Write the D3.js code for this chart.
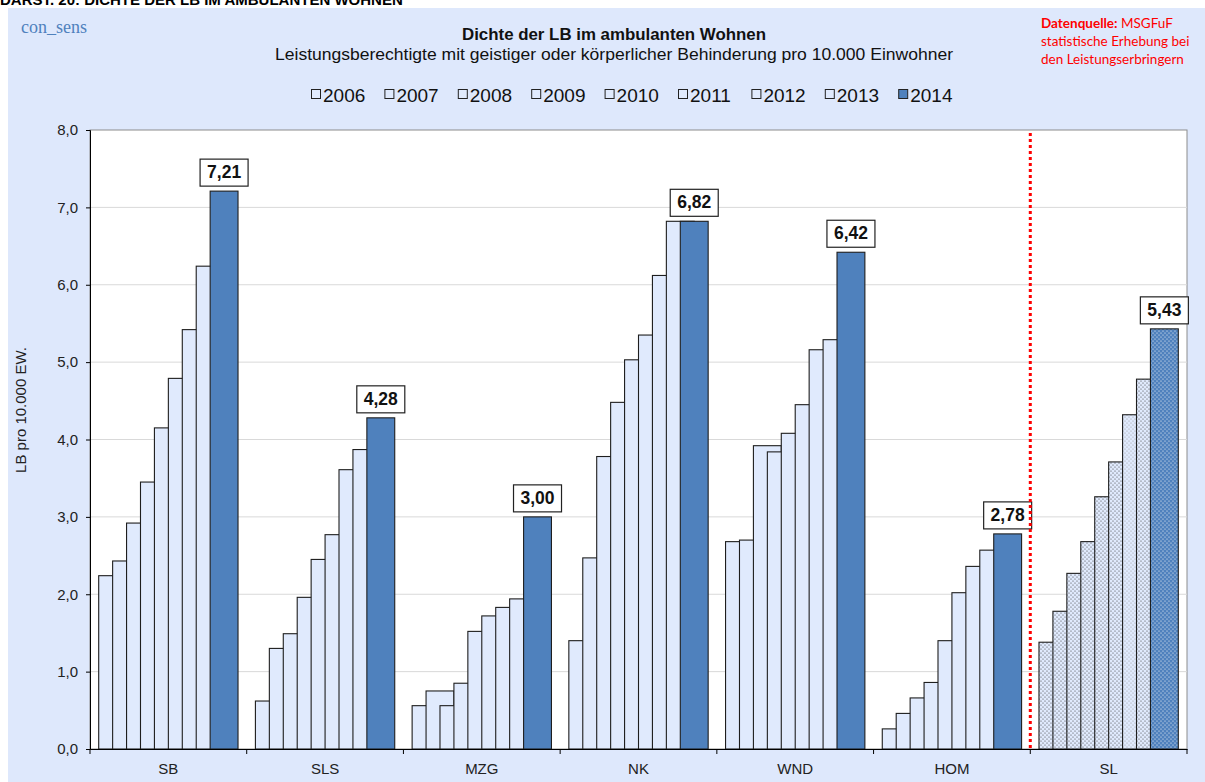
<!DOCTYPE html>
<html>
<head>
<meta charset="utf-8">
<script src="https://cdn.jsdelivr.net/npm/d3@7"></script>
<style>
  body { margin: 0; background: #fff; }
  svg { display: block; font-family: "Liberation Sans", Arial, sans-serif; }
</style>
</head>
<body>
<div id="chart"></div>
<script>
// Dichte der LB im ambulanten Wohnen
const categories = ["SB", "SLS", "MZG", "NK", "WND", "HOM", "SL"];
const years = ["2006", "2007", "2008", "2009", "2010", "2011", "2012", "2013", "2014"];
const v2006 = [2.24, 0.62, 0.56, 1.40, 2.68, 0.26, 1.38];
const v2007 = [2.43, 1.30, 0.75, 2.47, 2.70, 0.46, 1.78];
const v2008 = [2.92, 1.49, 0.56, 3.78, 3.92, 0.66, 2.27];
const v2009 = [3.45, 1.96, 0.85, 4.48, 3.84, 0.86, 2.68];
const v2010 = [4.15, 2.45, 1.52, 5.03, 4.08, 1.40, 3.26];
const v2011 = [4.79, 2.77, 1.72, 5.35, 4.45, 2.02, 3.71];
const v2012 = [5.42, 3.61, 1.83, 6.12, 5.16, 2.36, 4.32];
const v2013 = [6.24, 3.87, 1.94, 6.82, 5.29, 2.57, 4.78];
const v2014 = [7.21, 4.28, 3.00, 6.82, 6.42, 2.78, 5.43];
const series = [v2006, v2007, v2008, v2009, v2010, v2011, v2012, v2013, v2014];
const yTicks = [0, 1, 2, 3, 4, 5, 6, 7, 8];
const sourceLines = ["statistische Erhebung bei", "den Leistungserbringern"];

const W = 1205, H = 782;
const m = {left: 90, right: 1187, top: 130, bottom: 749};
const panelBg = "#dee8fc", barLight = "#e0eafd", barBlue = "#4f81bd";

const de = d3.formatLocale({decimal: ",", thousands: ".", grouping: [3], currency: ["", " €"]});
const f1 = de.format(".1f"), f2 = de.format(".2f");

const svg = d3.select("#chart").append("svg").attr("width", W).attr("height", H);

// patterns for the SL (Saarland) group
const defs = svg.append("defs");
function dotPattern(id, bg, dot, r) {
  const p = defs.append("pattern").attr("id", id).attr("patternUnits", "userSpaceOnUse")
    .attr("width", 4).attr("height", 4);
  p.append("rect").attr("width", 4).attr("height", 4).attr("fill", bg);
  p.append("circle").attr("cx", 1).attr("cy", 1).attr("r", r).attr("fill", dot);
  p.append("circle").attr("cx", 3).attr("cy", 3).attr("r", r).attr("fill", dot);
}
dotPattern("dotLight", barLight, "#3a3a3a", 0.6);
dotPattern("dotGrey", barLight, "#9a9a9a", 0.6);
dotPattern("dotBlue", barBlue, "#ffffff", 0.6);

// heading (cut off at top, as in the source document) and panel
svg.append("text").attr("x", 0).attr("y", 5).attr("font-size", 15).attr("font-weight", "bold")
  .attr("fill", "#000").text("DARST. 20: DICHTE DER LB IM AMBULANTEN WOHNEN");
svg.append("rect").attr("x", 8).attr("y", 8).attr("width", W - 8).attr("height", H - 8).attr("fill", panelBg);

svg.append("text").attr("x", 21).attr("y", 33).attr("font-family", "Liberation Serif, serif")
  .attr("font-size", 18).attr("fill", "#4f81bd").text("con_sens");

svg.append("text").attr("x", 614).attr("y", 40).attr("text-anchor", "middle").attr("font-size", 16)
  .attr("font-weight", "bold").attr("fill", "#111").attr("textLength", 304).attr("lengthAdjust", "spacingAndGlyphs")
  .text("Dichte der LB im ambulanten Wohnen");
svg.append("text").attr("x", 614).attr("y", 60).attr("text-anchor", "middle").attr("font-size", 17)
  .attr("fill", "#111").attr("textLength", 678).attr("lengthAdjust", "spacingAndGlyphs")
  .text("Leistungsberechtigte mit geistiger oder körperlicher Behinderung pro 10.000 Einwohner");

// data source
const src = svg.append("g").attr("font-family", "Lato, 'Open Sans', sans-serif").attr("font-size", 13.5).attr("fill", "#ff0000");
const t0 = src.append("text").attr("x", 1041).attr("y", 28);
t0.append("tspan").attr("font-weight", "bold").text("Datenquelle:");
t0.append("tspan").text(" MSGFuF");
src.selectAll("text.l").data(sourceLines).enter().append("text").attr("class", "l")
  .attr("x", 1041).attr("y", (d, i) => 46 + i * 18).text(d => d);

// legend
const lg = svg.append("g").attr("transform", "translate(311,95)");
const li = lg.selectAll("g").data(years).enter().append("g")
  .attr("transform", (d, i) => `translate(${i * 73.4},0)`);
li.append("rect").attr("x", 0.5).attr("y", -5.5).attr("width", 9).attr("height", 9)
  .attr("fill", (d, i) => i === 8 ? barBlue : barLight).attr("stroke", "#222").attr("stroke-width", 1);
li.append("text").attr("x", 12).attr("y", 0).attr("dy", "0.35em").attr("font-size", 19).attr("fill", "#111").text(d => d);

// scales
const x = d3.scaleBand().domain(categories).range([m.left, m.right]);
const y = d3.scaleLinear().domain([0, 8]).range([m.bottom, m.top]);
const bw = x.bandwidth();
const pad = bw * 0.0555;
const unit = (bw - 2 * pad) / 10;

// plot area
svg.append("rect").attr("x", m.left).attr("y", m.top).attr("width", m.right - m.left)
  .attr("height", m.bottom - m.top).attr("fill", "#fff").attr("stroke", "#8c8c8c").attr("stroke-width", 1);
svg.append("g").selectAll("line").data(yTicks.filter(t => t > 0 && t < 8)).enter().append("line")
  .attr("x1", m.left).attr("x2", m.right).attr("y1", d => y(d)).attr("y2", d => y(d))
  .attr("stroke", "#d9d9d9").attr("stroke-width", 1);

// bars: each bar is two slots wide and overlaps the next one by half (Excel overlap)
const bars = svg.append("g");
series.forEach((vals, si) => {
  bars.selectAll(null).data(vals.map((v, ci) => ({v, c: categories[ci], ci}))).enter().append("rect")
    .attr("x", d => x(d.c) + pad + si * unit)
    .attr("width", 2 * unit)
    .attr("y", d => y(d.v))
    .attr("height", d => y(0) - y(d.v))
    .attr("fill", d => {
      if (d.c === "SL") return si === 8 ? "url(#dotBlue)" : (si === 6 ? "url(#dotGrey)" : "url(#dotLight)");
      return si === 8 ? barBlue : barLight;
    })
    .attr("stroke", "#1e1e1e").attr("stroke-width", 1.1);
});

// axes
const yAxis = svg.append("g").attr("transform", `translate(${m.left},0)`)
  .call(d3.axisLeft(y).tickValues(yTicks).tickSize(4).tickPadding(8).tickFormat(f1));
yAxis.select(".domain").attr("stroke", "#000");
yAxis.selectAll("text").attr("font-size", 15).attr("fill", "#222").attr("font-family", "Liberation Sans, Arial, sans-serif");

const xAxis = svg.append("g").attr("transform", `translate(0,${m.bottom})`)
  .call(d3.axisBottom(x).tickSize(0).tickPadding(14));
xAxis.select(".domain").attr("stroke", "#000").attr("stroke-width", 1.2);
xAxis.selectAll("text").attr("font-size", 15).attr("fill", "#222").attr("font-family", "Liberation Sans, Arial, sans-serif");
svg.append("g").selectAll("line").data(categories.concat(["end"])).enter().append("line")
  .attr("x1", (d, i) => i < categories.length ? x(d) : m.right)
  .attr("x2", (d, i) => i < categories.length ? x(d) : m.right)
  .attr("y1", m.bottom).attr("y2", m.bottom + 5).attr("stroke", "#000");

svg.append("text").attr("transform", "translate(26,410) rotate(-90)").attr("text-anchor", "middle")
  .attr("font-size", 15).attr("fill", "#222").text("LB pro 10.000 EW.");

// value labels over 2014
const lab = svg.append("g").selectAll("g").data(v2014.map((v, ci) => ({v, c: categories[ci]}))).enter().append("g")
  .attr("transform", d => `translate(${x(d.c) + pad + 9 * unit},${y(d.v) - 5})`);
lab.append("rect").attr("x", -24).attr("y", -27).attr("width", 48).attr("height", 27)
  .attr("fill", "#fff").attr("stroke", "#222").attr("stroke-width", 1.2);
lab.append("text").attr("x", 0).attr("y", -8).attr("text-anchor", "middle").attr("font-size", 17.5)
  .attr("font-weight", "bold").attr("fill", "#111").text(d => f2(d.v));

// red separator between districts and state
svg.append("line").attr("x1", x("SL")).attr("x2", x("SL")).attr("y1", m.top + 3).attr("y2", m.bottom)
  .attr("stroke", "#ff0000").attr("stroke-width", 3).attr("stroke-dasharray", "3,3");
</script>
</body>
</html>
